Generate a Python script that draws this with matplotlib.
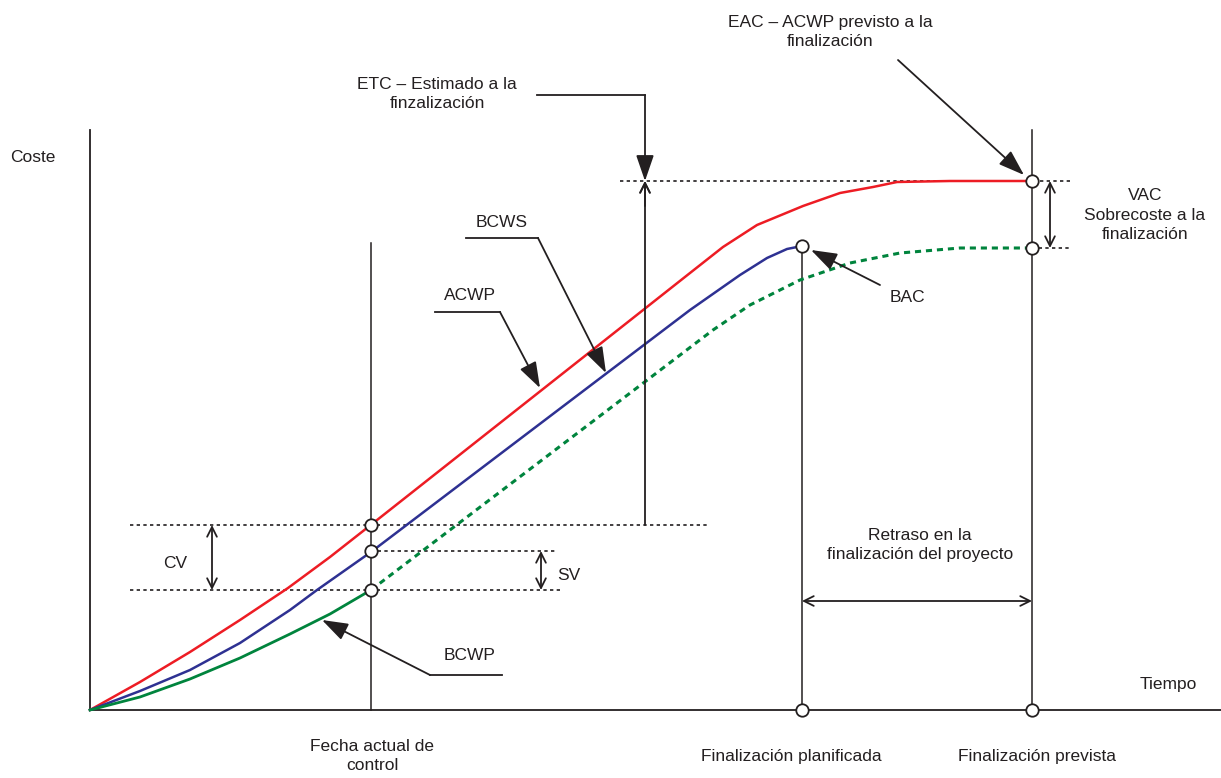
import matplotlib
matplotlib.use("Agg")
import matplotlib.pyplot as plt
from matplotlib import font_manager

# font: narrow sans if available
names = {f.name for f in font_manager.fontManager.ttflist}
fam = ['Liberation Sans Narrow', 'DejaVu Sans'] if 'Liberation Sans Narrow' in names else ['Liberation Sans', 'DejaVu Sans']
plt.rcParams['font.family'] = fam

# curves: time (x) and cost above the time axis (y)
acwp_t = [90, 140, 190, 240, 288, 330, 372, 690, 723, 757, 803, 840, 873, 897, 950, 1032]
acwp_c = [0, 28, 58, 90, 122, 153, 186, 437, 463, 485, 504, 517, 523, 528, 529, 529]
bcws_t = [90, 140, 190, 240, 290, 317, 371, 690, 740, 767, 787, 802]
bcws_c = [0, 19, 40, 67, 100, 120, 158, 400, 435, 452, 461, 464]
bcwp_t = [90, 140, 190, 240, 290, 330, 371]
bcwp_c = [0, 13, 31, 52, 76, 96, 120]
bcwp_fc_t = [371, 713, 750, 800, 850, 900, 960, 1032]
bcwp_fc_c = [120, 380, 405, 430, 447, 457, 462, 462]

t_control, t_planned, t_forecast = 371, 802, 1032
eac, bac, eac_low = 529, 464, 462
acwp_now, bcws_now, bcwp_now = 185, 159, 120

K = '#231f20'
fig = plt.figure(figsize=(12.21, 7.78), dpi=100)
ax = fig.add_axes([0, 0, 1, 1])
ax.set_xlim(0, 1221)
ax.set_ylim(-68, 710)
ax.axis('off')

# axes
ax.plot([90, 90], [0, 580], color=K, lw=1.3)
ax.plot([90, 1221], [0, 0], color=K, lw=1.3)
# vertical reference lines
ax.plot([t_control, t_control], [0, 467], color=K, lw=1.1)
ax.plot([t_planned, t_planned], [0, bac], color=K, lw=1.1)
ax.plot([t_forecast, t_forecast], [0, 580], color=K, lw=1.1)

# dotted guides
dot = dict(color=K, lw=1.2, ls=(0, (2, 2)))
ax.plot([620, 1070], [eac, eac], **dot)
ax.plot([130, 710], [acwp_now, acwp_now], **dot)
ax.plot([t_control, 555], [bcws_now, bcws_now], **dot)
ax.plot([130, 560], [bcwp_now, bcwp_now], **dot)
ax.plot([t_forecast, 1070], [eac_low, eac_low], **dot)

# curves
ax.plot(acwp_t, acwp_c, color='#ed1c24', lw=1.8, solid_joinstyle='round')
ax.plot(bcws_t, bcws_c, color='#2e3192', lw=1.8, solid_joinstyle='round')
ax.plot(bcwp_t, bcwp_c, color='#00843d', lw=2.0, solid_joinstyle='round')
ax.plot(bcwp_fc_t, bcwp_fc_c, color='#00843d', lw=2.2, ls=(0, (2, 1.6)))

# circles
cx = [t_control, t_control, t_control, t_planned, t_forecast, t_forecast, t_planned, t_forecast]
cy = [acwp_now, bcws_now, bcwp_now, bac, eac, eac_low, 0, 0]
ax.scatter(cx, cy, s=80, facecolor='white', edgecolor=K, lw=1.3, zorder=5)

# dimension arrows (open heads)
dim = dict(arrowstyle='<->,head_length=0.7,head_width=0.35', color=K, lw=1.3, shrinkA=0, shrinkB=0)
ax.annotate('', xy=(212, acwp_now), xytext=(212, bcwp_now), arrowprops=dim)
ax.annotate('', xy=(541, bcws_now), xytext=(541, bcwp_now), arrowprops=dim)
ax.annotate('', xy=(1050, eac), xytext=(1050, eac_low), arrowprops=dim)
ax.annotate('', xy=(t_planned, 109), xytext=(t_forecast, 109), arrowprops=dim)
# ETC: open head at bottom, open head at top meeting the filled leader arrow
ax.annotate('', xy=(645, acwp_now), xytext=(645, eac),
            arrowprops=dict(arrowstyle='<-,head_length=0.7,head_width=0.35', color=K, lw=1.3, shrinkA=0, shrinkB=0))
ax.annotate('', xy=(645, eac), xytext=(645, eac - 25),
            arrowprops=dict(arrowstyle='->,head_length=0.7,head_width=0.35', color=K, lw=1.3, shrinkA=0, shrinkB=0))

# filled leader arrows
fill = dict(arrowstyle='-|>,head_length=1.6,head_width=0.55', color=K, lw=1.3, shrinkA=0, shrinkB=0)
ax.plot([537, 645], [615, 615], color=K, lw=1.3)
ax.annotate('', xy=(645, eac), xytext=(645, 615), arrowprops=fill)
ax.annotate('', xy=(1024, eac + 6), xytext=(898, 650), arrowprops=fill)
ax.annotate('', xy=(811, bac - 4), xytext=(880, 425), arrowprops=fill)
ax.plot([435, 500], [398, 398], color=K, lw=1.3)
ax.annotate('', xy=(540, 322), xytext=(500, 398), arrowprops=fill)
ax.plot([466, 538], [472, 472], color=K, lw=1.3)
ax.annotate('', xy=(606, 337), xytext=(538, 472), arrowprops=fill)
ax.plot([502, 430], [35, 35], color=K, lw=1.3)
ax.annotate('', xy=(322, 90), xytext=(430, 35), arrowprops=fill)

# text
fs = 12.5
tk = dict(color=K, fontsize=fs, linespacing=1.4)
ax.text(10, 553, 'Coste', ha='left', va='center', **tk)
ax.text(1140, 25, 'Tiempo', ha='left', va='center', **tk)
ax.text(372, -46, 'Fecha actual de\ncontrol', ha='center', va='center', **tk)
ax.text(791, -47, 'Finalización planificada', ha='center', va='center', **tk)
ax.text(1037, -47, 'Finalización prevista', ha='center', va='center', **tk)
ax.text(175, 147, 'CV', ha='center', va='center', **tk)
ax.text(569, 135, 'SV', ha='center', va='center', **tk)
ax.text(470, 55, 'BCWP', ha='center', va='center', **tk)
ax.text(470, 415, 'ACWP', ha='center', va='center', **tk)
ax.text(502, 488, 'BCWS', ha='center', va='center', **tk)
ax.text(907, 413, 'BAC', ha='center', va='center', **tk)
ax.text(437, 616, 'ETC – Estimado a la\nfinzalización', ha='center', va='center', **tk)
ax.text(830, 678, 'EAC – ACWP previsto a la\nfinalización', ha='center', va='center', **tk)
ax.text(1145, 495, 'VAC\nSobrecoste a la\nfinalización', ha='center', va='center', **tk)
ax.text(920, 165, 'Retraso en la\nfinalización del proyecto', ha='center', va='center', **tk)

fig.savefig('out.png', dpi=100)
